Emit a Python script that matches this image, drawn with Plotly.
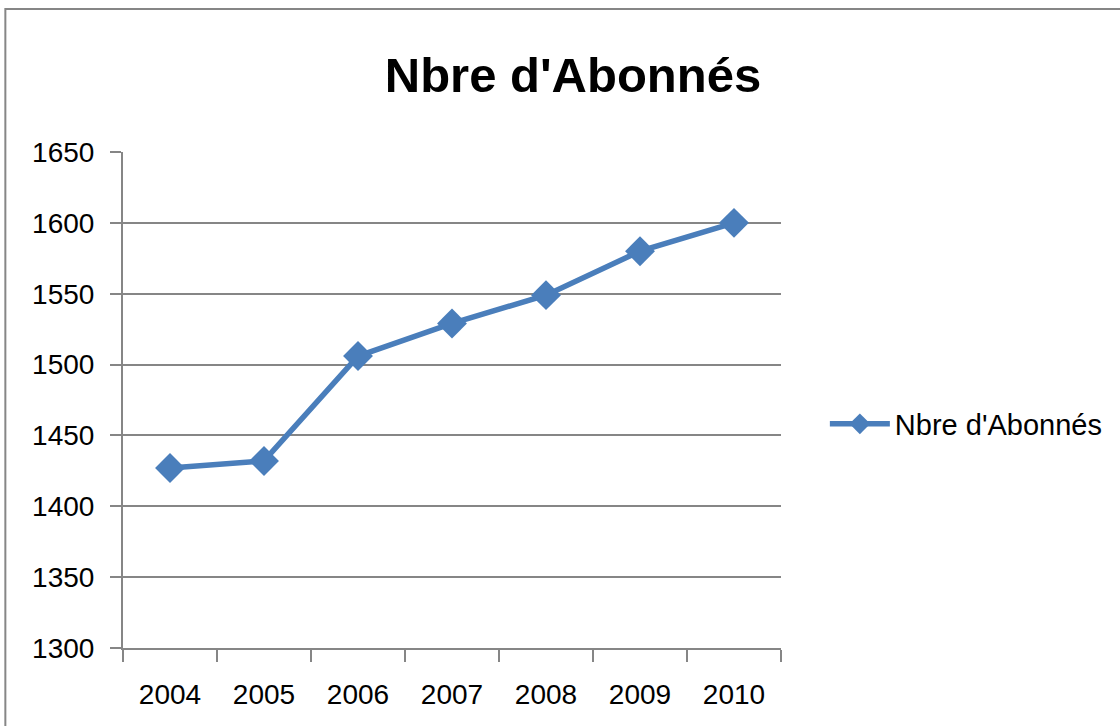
import plotly.graph_objects as go

years = ["2004", "2005", "2006", "2007", "2008", "2009", "2010"]
abonnes = [1427, 1432, 1506, 1529, 1549, 1580, 1600]
series_name = "Nbre d'Abonnés"
y_ticks = [1300, 1350, 1400, 1450, 1500, 1550, 1600, 1650]

W, H = 1120, 726
L, R, T, B = 123, 783, 152, 648
pw, ph = R - L, B - T

font_family = "Liberation Sans, Arial, sans-serif"
grid_col = "#868686"
blue = "#4A7EBB"

fig = go.Figure()
fig.add_trace(go.Scatter(
    x=years, y=abonnes, name=series_name, mode="lines+markers",
    line=dict(color=blue, width=5.5),
    marker=dict(symbol="diamond", size=23, color=blue),
))

fig.update_layout(
    width=W, height=H,
    margin=dict(l=L, r=W - R, t=T, b=H - B),
    paper_bgcolor="white", plot_bgcolor="white",
    title=dict(text="<b>Nbre d'Abonnés</b>", x=573 / W, xanchor="center",
               y=1 - 75 / H, yanchor="middle",
               font=dict(family=font_family, size=49, color="black")),
    showlegend=True,
    legend=dict(x=(827 - L) / pw, y=(B - 424) / ph, xanchor="left", yanchor="middle",
                font=dict(family=font_family, size=29, color="black"),
                itemwidth=60, bgcolor="rgba(0,0,0,0)"),
    xaxis=dict(type="category", range=[-0.5, 6.5], showgrid=False,
               showline=True, linecolor=grid_col, linewidth=2,
               ticks="outside", tickson="boundaries", ticklen=12, tickcolor=grid_col, tickwidth=2,
               tickfont=dict(family=font_family, size=28, color="black"), ticklabelstandoff=20),
    yaxis=dict(range=[1300, 1650], tickvals=y_ticks, showgrid=True, gridcolor=grid_col, gridwidth=2,
               showline=True, linecolor=grid_col, linewidth=2, zeroline=False,
               ticks="outside", ticklen=11, tickcolor=grid_col, tickwidth=2,
               tickfont=dict(family=font_family, size=28, color="black"), ticklabelstandoff=10),
    shapes=[dict(type="rect", xref="paper", yref="paper",
                 x0=(5 - L) / pw, x1=2.0, y0=-1.0, y1=(B - 9) / ph,
                 line=dict(color=grid_col, width=2), fillcolor="rgba(0,0,0,0)", layer="below")],
)

fig.write_html("out.html", config={"displayModeBar": False},
               post_script="document.body.style.margin='0';")
